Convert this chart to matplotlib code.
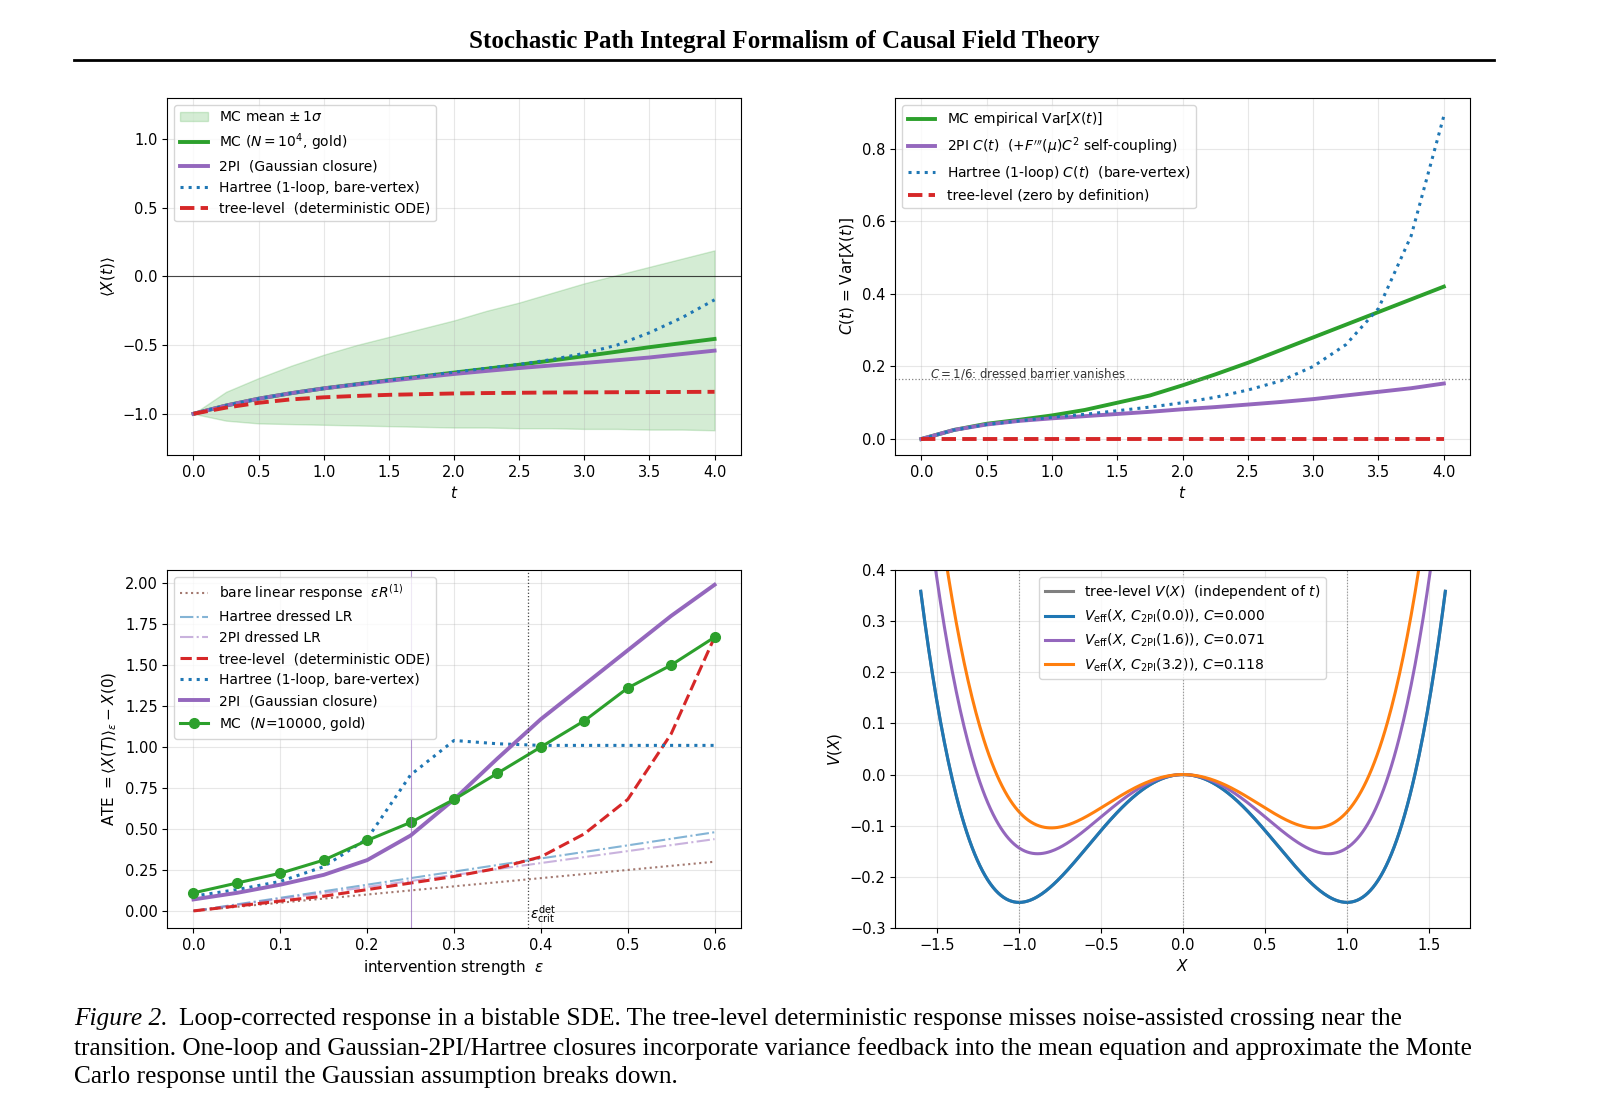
import numpy as np
import matplotlib.pyplot as plt

# ---- data ----
t = np.arange(0, 4.01, 0.25)
mc_mean = [-1.0, -0.94, -0.89, -0.85, -0.815, -0.785, -0.755, -0.728, -0.70,
           -0.672, -0.643, -0.612, -0.58, -0.548, -0.515, -0.485, -0.455]
mc_upper = [-1.0, -0.84, -0.74, -0.65, -0.57, -0.50, -0.44, -0.38, -0.32,
            -0.25, -0.19, -0.12, -0.05, 0.01, 0.07, 0.13, 0.19]
mc_lower = [-1.0, -1.05, -1.07, -1.075, -1.08, -1.085, -1.09, -1.095, -1.10,
            -1.10, -1.105, -1.105, -1.11, -1.11, -1.115, -1.115, -1.12]
pi2_mean = [-1.0, -0.94, -0.89, -0.85, -0.815, -0.787, -0.76, -0.735, -0.71,
            -0.688, -0.667, -0.648, -0.63, -0.61, -0.59, -0.565, -0.54]
hartree_mean = [-1.0, -0.94, -0.89, -0.85, -0.815, -0.785, -0.755, -0.725, -0.697,
                -0.668, -0.64, -0.605, -0.56, -0.50, -0.41, -0.30, -0.17]
tree_mean = [-1.0, -0.955, -0.92, -0.895, -0.88, -0.87, -0.862, -0.857, -0.852,
             -0.849, -0.847, -0.845, -0.844, -0.843, -0.842, -0.841, -0.84]

mc_var = [0, 0.025, 0.042, 0.053, 0.065, 0.08, 0.10, 0.12, 0.148, 0.178, 0.21,
          0.245, 0.28, 0.315, 0.35, 0.385, 0.42]
pi2_var = [0, 0.025, 0.04, 0.05, 0.057, 0.063, 0.069, 0.075, 0.082, 0.088, 0.095,
           0.102, 0.11, 0.12, 0.13, 0.14, 0.153]
hartree_var = [0, 0.025, 0.04, 0.05, 0.06, 0.068, 0.078, 0.088, 0.10, 0.115, 0.135,
               0.16, 0.20, 0.26, 0.36, 0.56, 0.89]
tree_var = [0] * len(t)

eps = np.arange(0, 0.601, 0.05)
ate_mc = [0.11, 0.17, 0.23, 0.31, 0.43, 0.54, 0.68, 0.84, 1.00, 1.16, 1.36, 1.50, 1.67]
ate_2pi = [0.07, 0.11, 0.16, 0.22, 0.31, 0.46, 0.68, 0.93, 1.17, 1.38, 1.59, 1.80, 1.99]
ate_hartree = [0.09, 0.13, 0.18, 0.27, 0.44, 0.83, 1.04, 1.02, 1.01, 1.01, 1.01, 1.01, 1.01]
ate_tree = [0.0, 0.03, 0.06, 0.09, 0.13, 0.17, 0.21, 0.26, 0.33, 0.47, 0.68, 1.08, 1.67]
lr_slope_bare = 0.50
lr_slope_hartree = 0.80
lr_slope_2pi = 0.73
eps_vline = 0.25
eps_crit = 0.385

C_values = [0.000, 0.071, 0.118]
C_times = [0.0, 1.6, 3.2]
C_colors = ['tab:blue', 'tab:purple', 'tab:orange']

SERIF = 'Liberation Serif'
CAP_FS = 18.3

fig = plt.figure(figsize=(16.1, 11.03), dpi=100)

# header
fig.text(0.487, 0.962, 'Stochastic Path Integral Formalism of Causal Field Theory',
         ha='center', va='center', family=SERIF, fontsize=18, fontweight='bold')
fig.add_artist(plt.Line2D([0.046, 0.928], [0.946, 0.946], color='black', lw=2))

# caption (cut at the bottom edge like the reference)
cap_lines = [
    "Loop-corrected response in a bistable SDE. The tree-level deterministic response misses noise-assisted crossing near the",
    "transition. One-loop and Gaussian-2PI/Hartree closures incorporate variance feedback into the mean equation and approximate the Monte",
    "Carlo response until the Gaussian assumption breaks down.",
]
fig.canvas.draw()
r = fig.canvas.get_renderer()
lab = fig.text(0.046, 0.076, 'Figure 2.', family=SERIF, style='italic', fontsize=CAP_FS, va='center')
w = lab.get_window_extent(r).width / fig.bbox.width
ys = [0.076, 0.0497, 0.0234]
fig.text(0.046 + w + 0.007, ys[0], cap_lines[0], family=SERIF, fontsize=CAP_FS, va='center')
fig.text(0.046, ys[1], cap_lines[1], family=SERIF, fontsize=CAP_FS, va='center')
fig.text(0.046, ys[2], cap_lines[2], family=SERIF, fontsize=CAP_FS, va='center')

ax1 = fig.add_axes([0.104, 0.5875, 0.356, 0.3237])
ax2 = fig.add_axes([0.556, 0.5875, 0.357, 0.3237])
ax3 = fig.add_axes([0.104, 0.1587, 0.356, 0.3245])
ax4 = fig.add_axes([0.556, 0.1587, 0.357, 0.3245])

for ax in (ax1, ax2, ax3, ax4):
    ax.grid(True, alpha=0.3)
    ax.tick_params(labelsize=10.5)

# top-left: mean
ax1.fill_between(t, mc_lower, mc_upper, color='tab:green', alpha=0.2, label=r'MC mean $\pm\,1\sigma$')
ax1.plot(t, mc_mean, color='tab:green', lw=2.8, label=r'MC ($N=10^4$, gold)')
ax1.plot(t, pi2_mean, color='tab:purple', lw=2.8, label='2PI  (Gaussian closure)')
ax1.plot(t, hartree_mean, color='tab:blue', lw=2.2, ls=':', label='Hartree (1-loop, bare-vertex)')
ax1.plot(t, tree_mean, color='tab:red', lw=2.8, ls='--', label='tree-level  (deterministic ODE)')
ax1.axhline(0, color='black', lw=0.8, alpha=0.7)
ax1.set_xlim(-0.2, 4.2)
ax1.set_ylim(-1.3, 1.3)
ax1.set_yticks([-1.0, -0.5, 0.0, 0.5, 1.0])
ax1.set_xlabel('$t$', fontsize=11)
ax1.set_ylabel(r'$\langle X(t)\rangle$', fontsize=11)
ax1.legend(loc='upper left', fontsize=10)

# top-right: variance
ax2.plot(t, mc_var, color='tab:green', lw=2.8, label=r'MC empirical Var$[X(t)]$')
ax2.plot(t, pi2_var, color='tab:purple', lw=2.8,
         label=r"2PI $C(t)$  $(+F'''(\mu)C^2$ self-coupling)")
ax2.plot(t, hartree_var, color='tab:blue', lw=2.2, ls=':', label=r'Hartree (1-loop) $C(t)$  (bare-vertex)')
ax2.plot(t, tree_var, color='tab:red', lw=2.8, ls='--', label='tree-level (zero by definition)')
ax2.axhline(1 / 6, color='gray', lw=0.9, ls=':')
ax2.text(0.07, 1 / 6 + 0.004, r'$C=1/6$: dressed barrier vanishes', fontsize=8.5, color='#333333')
ax2.set_xlim(-0.2, 4.2)
ax2.set_ylim(-0.044, 0.94)
ax2.set_xlabel('$t$', fontsize=11)
ax2.set_ylabel(r'$C(t)$ = Var$[X(t)]$', fontsize=11)
ax2.legend(loc='upper left', fontsize=10)

# bottom-left: ATE
ax3.plot(eps, lr_slope_bare * eps, color='tab:brown', lw=1.5, ls=':', alpha=0.8,
         label=r'bare linear response  $\varepsilon R^{(1)}$')
ax3.plot(eps, lr_slope_hartree * eps, color='tab:blue', lw=1.5, ls='-.', alpha=0.55,
         label='Hartree dressed LR')
ax3.plot(eps, lr_slope_2pi * eps, color='tab:purple', lw=1.5, ls='-.', alpha=0.5,
         label='2PI dressed LR')
ax3.plot(eps, ate_tree, color='tab:red', lw=2.2, ls='--', label='tree-level  (deterministic ODE)')
ax3.plot(eps, ate_hartree, color='tab:blue', lw=2.2, ls=':', label='Hartree (1-loop, bare-vertex)')
ax3.plot(eps, ate_2pi, color='tab:purple', lw=2.8, label='2PI  (Gaussian closure)')
ax3.plot(eps, ate_mc, color='tab:green', lw=2.2, marker='o', ms=7, label=r'MC  ($N$=10000, gold)')
ax3.axvline(eps_vline, color='tab:purple', lw=0.8, alpha=0.7)
ax3.axvline(eps_crit, color='#444444', lw=0.9, ls=':')
ax3.text(eps_crit + 0.003, -0.02, r'$\varepsilon_{\rm crit}^{\rm det}$', fontsize=10, va='center')
ax3.set_xlim(-0.03, 0.63)
ax3.set_ylim(-0.104, 2.08)
ax3.set_yticks(np.arange(0, 2.01, 0.25))
ax3.set_xlabel(r'intervention strength  $\varepsilon$', fontsize=11)
ax3.set_ylabel(r'ATE $=\langle X(T)\rangle_\varepsilon - X(0)$', fontsize=11)
ax3.legend(loc='upper left', fontsize=10)

# bottom-right: effective potential
X = np.linspace(-1.6, 1.6, 400)
ax4.plot(X, X**4 / 4 - X**2 / 2, color='gray', lw=2.2, label=r'tree-level $V(X)$  (independent of $t$)')
for C, tc, col in zip(C_values, C_times, C_colors):
    ax4.plot(X, X**4 / 4 - X**2 / 2 + 1.5 * C * X**2, color=col, lw=2.2,
             label=r'$V_{\rm eff}(X,\,C_{\rm 2PI}(%.1f))$, $C$=%.3f' % (tc, C))
for xv in (-1, 0, 1):
    ax4.axvline(xv, color='gray', lw=0.8, ls=':', alpha=0.8)
ax4.set_xlim(-1.756, 1.75)
ax4.set_ylim(-0.3, 0.4)
ax4.set_xlabel('$X$', fontsize=11)
ax4.set_ylabel('$V(X)$', fontsize=11)
ax4.legend(loc='upper center', fontsize=10)

fig.savefig('out.png', dpi=100)
